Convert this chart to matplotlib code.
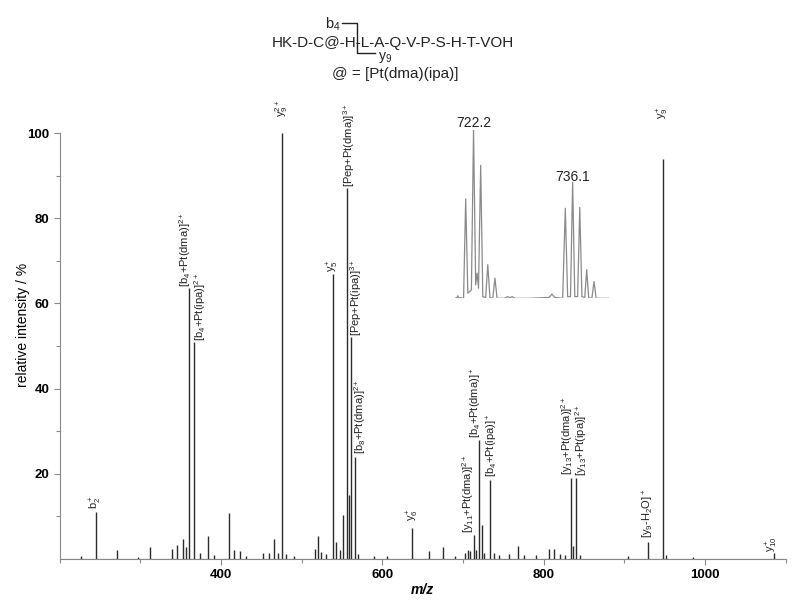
import matplotlib
matplotlib.use("Agg")
import matplotlib.pyplot as plt
from matplotlib.lines import Line2D

plt.rcParams['font.family'] = ['Liberation Sans', 'DejaVu Sans']
plt.rcParams['mathtext.fontset'] = 'custom'
plt.rcParams['mathtext.rm'] = 'Liberation Sans'
plt.rcParams['mathtext.it'] = 'Liberation Sans:italic'
plt.rcParams['mathtext.bf'] = 'Liberation Sans:bold'

# Spectrum (m/z, relative intensity %)
mz = [227, 244.5, 271, 297, 312.5, 339, 346, 352.7, 356, 360.5, 367, 374, 383.5, 391,
      410, 416, 423.5, 431, 452, 459, 466, 471, 475, 481, 490, 516, 520, 524, 530,
      538.7, 542, 547, 551, 556.5, 559, 561.5, 566, 570, 590, 606, 636.6, 658, 675,
      690, 703, 706, 709, 713, 716, 720, 723, 726, 734, 738, 745, 757, 768, 775, 790,
      807, 813, 820, 826, 833.7, 836, 840.4, 845, 905, 929.6, 948, 952, 985, 1085]
intensity = [0.7, 11.1, 2.1, 0.4, 2.9, 2.3, 3.4, 4.6, 2.7, 63.5, 51, 1.5, 5.4, 1.0,
             10.7, 2.1, 1.8, 0.8, 1.5, 1.3, 4.6, 1.5, 100, 1.2, 0.8, 2.3, 5.4, 1.6, 1.2,
             67, 4, 2, 10.3, 87, 15, 52, 24, 1.2, 0.7, 0.8, 7.3, 1.8, 2.9,
             0.6, 1.5, 2.0, 1.8, 5.6, 2.0, 28, 8, 1.5, 18.5, 1.5, 1.0, 1.2, 3.0, 1.0, 1.0,
             2.3, 2.3, 1.2, 1.0, 19, 3, 19, 1.0, 0.7, 4, 94, 1.0, 0.5, 1.4]

# annotated peaks
label_mz = [244.5, 360.5, 367, 475, 538.7, 556.5, 561.5, 566, 636.6, 713, 720, 734,
            833.7, 840.4, 929.6, 948, 1085]
label_text = [r'b$\mathregular{_2^+}$',
              r'[b$\mathregular{_4}$+Pt(dma)]$\mathregular{^{2+}}$',
              r'[b$\mathregular{_4}$+Pt(ipa)]$\mathregular{^{2+}}$',
              r'y$\mathregular{_9^{2+}}$',
              r'y$\mathregular{_5^+}$',
              r'[Pep+Pt(dma)]$\mathregular{^{3+}}$',
              r'[Pep+Pt(ipa)]$\mathregular{^{3+}}$',
              r'[b$\mathregular{_8}$+Pt(dma)]$\mathregular{^{2+}}$',
              r'y$\mathregular{_6^+}$',
              r'[y$\mathregular{_{11}}$+Pt(dma)]$\mathregular{^{2+}}$',
              r'[b$\mathregular{_4}$+Pt(dma)]$\mathregular{^+}$',
              r'[b$\mathregular{_4}$+Pt(ipa)]$\mathregular{^+}$',
              r'[y$\mathregular{_{13}}$+Pt(dma)]$\mathregular{^{2+}}$',
              r'[y$\mathregular{_{13}}$+Pt(ipa)]$\mathregular{^{2+}}$',
              r'[y$\mathregular{_9}$-H$\mathregular{_2}$O]$\mathregular{^+}$',
              r'y$\mathregular{_9^+}$',
              r'y$\mathregular{_{10}^+}$']
label_dx = [0, -4, 6, 0, 0, 2, 5, 5, 1, -5, -3, 2, -4, 5, 0, 0, -2]
label_dy = [3, 1, 1, 16, 2, 1, 1, 3, 7, 2, 2, 3, 3, 2, 4, 40, 1]

# inset: isotope pattern around 722.2 / 736.1
inset_mz = [719.6, 719.9, 720.0, 720.1, 720.8, 721.1, 721.4, 721.9, 722.2, 722.5,
            722.7, 722.9, 723.2, 723.5, 723.9, 724.2, 724.5, 724.9, 725.2, 725.5,
            726.5, 727.0, 727.3, 727.6, 728.0, 730.0, 732.8, 733.2, 733.6, 734.7,
            735.07, 735.4, 735.8, 736.1, 736.4, 736.8, 737.1, 737.4, 737.8, 738.07,
            738.35, 738.8, 739.1, 739.4, 741.2]
inset_int = [0, 0.5, 1.5, 0.5, 0, 59, 3, 5, 100, 8, 15, 6, 79, 1, 0.5, 20, 0.5, 0, 12, 0,
             0, 1, 0.3, 1, 0, 0, 0.5, 2.5, 0.5, 0, 53.5, 1, 1, 69, 1, 1, 54, 1, 0.5, 17,
             0.3, 0, 10, 0, 0]

fig = plt.figure(figsize=(8, 6.04), dpi=100)
W, H = 800, 604
ax = fig.add_axes([59.7 / W, 45 / H, 726 / W, 468.6 / H])

ax.vlines(mz, 0, intensity, color='#2b2b2b', lw=1.0)
ax.plot([200, 1100], [0, 0], color='#2b2b2b', lw=0.8)

for x, t, dx, dy in zip(label_mz, label_text, label_dx, label_dy):
    h = intensity[mz.index(x)]
    ax.annotate(t, xy=(x, h), xytext=(dx, dy), textcoords='offset pixels',
                rotation=90, ha='center', va='bottom', fontsize=8, color='#222222')

ax.set_xlim(200, 1100)
ax.set_ylim(0, 110)
for s in ['top', 'right']:
    ax.spines[s].set_visible(False)
for s in ['left', 'bottom']:
    ax.spines[s].set_color('#888888')
    ax.spines[s].set_linewidth(0.8)
ax.spines['left'].set_bounds(0, 100)
ax.set_xticks([400, 600, 800, 1000])
ax.set_xticks([200, 300, 500, 700, 900, 1100], minor=True)
ax.set_yticks([20, 40, 60, 80, 100])
ax.set_yticks([10, 30, 50, 70, 90], minor=True)
ax.tick_params(which='both', direction='out', color='#888888', width=0.8)
ax.tick_params(which='major', length=4, labelsize=9.5)
ax.tick_params(which='minor', length=3)
for lab in ax.get_xticklabels() + ax.get_yticklabels():
    lab.set_fontweight('bold')
ax.set_xlabel('m/z', fontsize=10, style='italic', fontweight='bold', labelpad=1)
ax.set_ylabel('relative intensity / %', fontsize=10, labelpad=-2)

# inset
ins = fig.add_axes([455 / W, (H - 298.3) / H, 154 / W, 168.3 / H])
ins.plot(inset_mz, inset_int, color='#8a8a8a', lw=0.9)
ins.set_xlim(719.6, 741.2)
ins.set_ylim(0, 100)
ins.axis('off')
ins.text(722.2, 100, '722.2', ha='center', va='bottom', fontsize=10, color='#222222')
ins.text(736.1, 68, '736.1', ha='center', va='bottom', fontsize=10, color='#222222')

# peptide scheme on top
def fx(px):
    return px / W

def fy(py):
    return 1 - py / H

fig.text(fx(393), fy(47), 'HK-D-C@-H-L-A-Q-V-P-S-H-T-VOH', ha='center',
         va='baseline', fontsize=11, color='#222222')
fig.text(fx(333), fy(29), r'b$\mathregular{_4}$', ha='center', va='baseline',
         fontsize=10.5, color='#222222')
fig.text(fx(385), fy(60), r'y$\mathregular{_9}$', ha='center', va='baseline',
         fontsize=10, color='#222222')
fig.text(fx(395), fy(78), '@ = [Pt(dma)(ipa)]', ha='center', va='baseline',
         fontsize=11, color='#222222')
fig.add_artist(Line2D([fx(342), fx(357.3), fx(357.3), fx(375)],
                      [fy(23.3), fy(23.3), fy(53.3), fy(53.3)],
                      color='#222222', lw=1.0))

fig.savefig('out.png', dpi=100)
